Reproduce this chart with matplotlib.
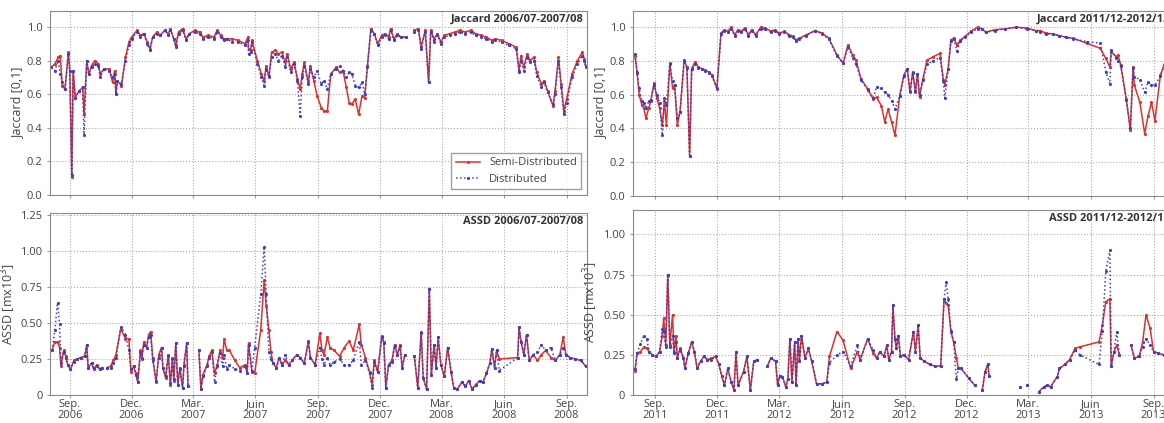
import numpy as np
import pandas as pd
import matplotlib
matplotlib.use("Agg")
import matplotlib.pyplot as plt
import matplotlib.dates as mdates

plt.rcParams['font.family'] = ['Open Sans', 'DejaVu Sans']

nan = np.nan

# ---- 2006/07-2007/08, days since 2006-08-01 ----
jac06_days = [4, 9, 14, 17, 20, 24, 29, 31, 34, 36,
              39, 45, 50, 52, 56, 59, 63, 68, 73, 76,
              81, 89, 94, 97, 99, 101, 107, 113, 118, 122,
              130, 135, 140, 145, 149, 153, 159, 164, 171, 176,
              179, 184, 187, 191, 197, 202, 207, 215, 222, 227,
              235, 243, 248, 253, 258, 263, 269, 279, 289, 293,
              294, 297, 299, 307, 313, 317, 320, 324, 328, 333,
              338, 343, 348, 351, 356, 361, 366, 370, 373, 376,
              382, 385, 390, 395, 401, 405, 410, 415, 423, 428,
              433, 438, 442, 446, 451, 456, 461, 465, 469, 474,
              479, 484, 490, 495, 500, 503, 508, 513, 518, 526,
              532, 538, 544, 548, 554, 559, 562, 567, 572, 577,
              582, 590, 598, 605, 613, 621, 628, 636, 644, 652,
              657, 667, 677, 688, 692, 695, 699, 704, 708, 714,
              718, 725, 729, 734, 742, 745, 750, 754, 758, 762,
              770, 778, 785, 788, 790]
jac06_semi = [0.76, 0.78, 0.82, 0.83, 0.65, 0.63, 0.85, 0.74, 0.11, 0.74,
              0.58, 0.62, 0.64, 0.48, 0.80, 0.72, 0.77, 0.80, 0.78, 0.72,
              0.75, 0.75, 0.67, 0.74, 0.60, 0.68, 0.65, 0.82, 0.91, 0.94,
              0.98, 0.95, 0.96, 0.91, 0.87, 0.94, 0.97, 0.95, 0.98, 0.96,
              0.99, 0.93, 0.89, 0.97, 0.99, 0.93, 0.96, 0.98, 0.97, 0.94,
              0.95, 0.94, 0.98, 0.95, 0.93, 0.93, 0.93, 0.92, 0.90, 0.94,
              0.87, 0.86, 0.92, 0.80, 0.72, 0.68, 0.77, 0.70, 0.85, 0.86,
              0.84, 0.85, 0.79, 0.84, 0.75, 0.79, 0.69, 0.63, 0.72, 0.79,
              0.67, 0.77, 0.68, 0.59, 0.52, 0.50, 0.50, 0.72, 0.76, 0.73,
              0.74, 0.64, 0.55, 0.54, 0.57, 0.48, 0.59, 0.58, 0.77, 0.99,
              0.96, 0.90, 0.95, 0.96, 0.94, 0.99, 0.93, 0.96, 0.94, 0.94,
              nan, 0.98, 0.99, 0.88, 0.98, 0.67, 0.98, 0.93, 0.96, 0.91,
              0.95, 0.96, 0.97, 0.98, 0.97, 0.98, 0.96, 0.95, 0.94, 0.92,
              0.93, 0.92, 0.90, 0.88, 0.74, 0.83, 0.76, 0.84, 0.80, 0.82,
              0.73, 0.66, 0.68, 0.62, 0.53, 0.62, 0.82, 0.66, 0.50, 0.57,
              0.72, 0.80, 0.85, 0.81, 0.77]
jac06_dist = [0.76, 0.74, 0.80, 0.72, 0.67, 0.63, 0.84, 0.74, 0.12, 0.74,
              0.58, 0.62, 0.64, 0.36, 0.80, 0.72, 0.76, 0.78, 0.77, 0.70,
              0.75, 0.74, 0.70, 0.72, 0.60, 0.68, 0.66, 0.80, 0.89, 0.93,
              0.97, 0.94, 0.96, 0.90, 0.86, 0.94, 0.96, 0.95, 0.98, 0.95,
              0.98, 0.93, 0.88, 0.96, 0.98, 0.92, 0.96, 0.97, 0.96, 0.93,
              0.94, 0.93, 0.97, 0.94, 0.92, 0.93, 0.91, 0.91, 0.89, 0.92,
              0.84, 0.85, 0.91, 0.78, 0.70, 0.65, 0.75, 0.71, 0.82, 0.84,
              0.80, 0.83, 0.76, 0.82, 0.73, 0.78, 0.68, 0.47, 0.70, 0.77,
              0.66, 0.75, 0.70, 0.74, 0.66, 0.68, 0.63, 0.72, 0.75, 0.77,
              0.74, 0.70, 0.73, 0.72, 0.65, 0.64, 0.67, 0.60, 0.76, 0.98,
              0.96, 0.89, 0.94, 0.95, 0.93, 0.98, 0.92, 0.95, 0.94, 0.94,
              nan, 0.97, 0.98, 0.87, 0.97, 0.67, 0.97, 0.91, 0.95, 0.90,
              0.94, 0.95, 0.96, 0.97, 0.96, 0.97, 0.95, 0.94, 0.93, 0.91,
              0.92, 0.91, 0.89, 0.87, 0.73, 0.80, 0.74, 0.82, 0.79, 0.80,
              0.71, 0.64, 0.67, 0.61, 0.54, 0.60, 0.80, 0.64, 0.48, 0.55,
              0.70, 0.78, 0.83, 0.80, 0.76]

assd06_days = [5, 9, 13, 16, 18, 22, 25, 28, 32, 37,
               42, 47, 53, 56, 58, 63, 66, 71, 75, 78,
               82, 86, 91, 95, 99, 106, 113, 118, 121, 125,
               128, 131, 135, 137, 140, 144, 147, 150, 153, 158,
               162, 166, 168, 172, 176, 179, 182, 184, 187, 190,
               193, 197, 199, 203, 205, 213, 221, 224, 227, 233,
               236, 240, 244, 248, 252, 256, 258, 262, 266, 274,
               281, 289, 292, 294, 299, 303, 312, 317, 320, 324,
               327, 330, 335, 339, 343, 348, 353, 358, 365, 370,
               376, 382, 385, 392, 399, 402, 405, 410, 414, 420,
               428, 435, 442, 448, 457, 460, 466, 472, 476, 479,
               484, 490, 493, 496, 500, 505, 509, 513, 517, 520,
               524, 531, 538, 543, 548, 551, 556, 560, 563, 567,
               570, 573, 577, 582, 587, 592, 596, 601, 608, 613,
               618, 623, 628, 634, 639, 644, 649, 652, 656, 659,
               663, 690, 692, 695, 699, 703, 707, 713, 719, 725,
               731, 739, 745, 752, 757, 761, 767, 775, 783, 790]
assd06_semi = [0.31, 0.37, 0.37, 0.33, 0.20, 0.31, 0.27, 0.21, 0.18, 0.24,
               0.25, 0.26, 0.27, 0.35, 0.19, 0.22, 0.18, 0.21, 0.18, 0.19,
               nan, 0.19, 0.20, 0.24, 0.28, 0.46, 0.39, 0.39, 0.16, 0.20,
               0.15, 0.09, 0.31, 0.26, 0.37, 0.33, 0.42, 0.44, 0.26, 0.09,
               0.28, 0.33, 0.19, 0.12, 0.28, 0.07, 0.26, 0.10, 0.36, 0.07,
               0.19, 0.05, 0.21, 0.36, 0.06, nan, 0.31, 0.04, 0.14, 0.21,
               0.27, 0.31, 0.15, 0.21, 0.31, 0.26, 0.39, 0.31, 0.31, 0.24,
               0.19, 0.21, 0.15, 0.36, 0.16, 0.15, 0.45, 0.80, 0.62, 0.45,
               0.30, 0.22, 0.19, 0.26, 0.21, 0.24, 0.21, 0.24, 0.28, 0.26,
               0.22, 0.37, 0.26, 0.21, 0.43, 0.31, 0.28, 0.40, 0.33, 0.31,
               0.27, 0.33, 0.375, 0.31, 0.49, 0.35, 0.26, 0.16, 0.07, 0.24,
               0.16, 0.41, 0.37, 0.05, 0.21, 0.24, 0.35, 0.28, 0.35, 0.19,
               0.28, nan, 0.27, 0.05, 0.44, 0.12, 0.04, 0.74, 0.14, 0.35,
               0.19, 0.40, 0.21, 0.13, 0.33, 0.16, 0.05, 0.04, 0.09, 0.06,
               0.10, 0.04, 0.07, 0.10, 0.09, 0.15, 0.22, 0.32, 0.19, 0.31,
               0.25, 0.26, 0.47, 0.37, 0.28, 0.42, 0.24, 0.28, 0.24, 0.28,
               0.31, 0.26, 0.24, 0.28, 0.40, 0.28, 0.26, 0.25, 0.24, 0.20]
assd06_dist = [0.31, 0.45, 0.64, 0.49, 0.22, 0.30, 0.26, 0.21, 0.18, 0.23,
               0.25, 0.26, 0.27, 0.35, 0.19, 0.22, 0.19, 0.20, 0.18, 0.19,
               nan, 0.19, 0.19, 0.22, 0.26, 0.47, 0.42, 0.31, 0.18, 0.20,
               0.14, 0.09, 0.30, 0.25, 0.35, 0.33, 0.40, 0.42, 0.24, 0.10,
               0.26, 0.33, 0.19, 0.13, 0.27, 0.08, 0.25, 0.11, 0.36, 0.07,
               0.18, 0.05, 0.20, 0.36, 0.06, nan, 0.31, 0.04, 0.13, 0.20,
               0.26, 0.30, 0.09, 0.20, 0.29, 0.20, 0.28, 0.18, 0.21, 0.18,
               0.17, 0.20, 0.15, 0.35, 0.17, 0.33, 0.70, 1.03, 0.70, 0.30,
               0.25, 0.22, 0.19, 0.26, 0.21, 0.28, 0.21, 0.24, 0.28, 0.26,
               0.22, 0.375, 0.26, 0.21, 0.33, 0.25, 0.21, 0.26, 0.21, 0.23,
               0.25, 0.21, 0.21, 0.24, 0.37, 0.21, 0.24, 0.15, 0.05, 0.23,
               0.16, 0.40, 0.36, 0.05, 0.21, 0.23, 0.34, 0.28, 0.34, 0.19,
               0.28, nan, 0.27, 0.05, 0.43, 0.12, 0.04, 0.74, 0.14, 0.35,
               0.19, 0.40, 0.21, 0.13, 0.33, 0.16, 0.05, 0.04, 0.09, 0.06,
               0.10, 0.04, 0.07, 0.10, 0.09, 0.15, 0.22, 0.32, 0.19, 0.31,
               0.17, 0.26, 0.47, 0.37, 0.28, 0.42, 0.24, 0.28, 0.30, 0.35,
               0.31, 0.33, 0.24, 0.28, 0.33, 0.28, 0.26, 0.25, 0.24, 0.20]

# ---- 2011/12-2012/13, days since 2011-08-01 ----
jac11_days = [2, 5, 8, 12, 15, 18, 22, 25, 30, 34,
              38, 42, 45, 48, 53, 57, 60, 64, 68, 74,
              78, 82, 85, 90, 95, 100, 105, 110, 115, 122,
              128, 133, 138, 143, 148, 153, 158, 163, 168, 173,
              179, 186, 193, 201, 207, 213, 221, 228, 233, 238,
              243, 253, 266, 276, 286, 298, 307, 314, 321, 326,
              333, 343, 351, 356, 363, 368, 373, 378, 383, 390,
              396, 401, 405, 409, 413, 416, 419, 424, 430, 439,
              449, 454, 456, 461, 465, 469, 474, 479, 486, 494,
              504, 511, 516, 529, 544, 561, 576, 589, 596, 604,
              614, 624, 634, 644, 664, 684, 692, 698, 700, 707,
              710, 714, 722, 728, 732, 734, 742, 749, 754, 759,
              764, 772, 779]
jac11_semi = [0.83, 0.735, 0.60, 0.54, 0.52, 0.46, 0.52, 0.56, 0.67, 0.58,
              0.52, 0.42, 0.56, 0.42, 0.785, 0.64, 0.66, 0.42, 0.50, 0.805,
              0.765, 0.24, 0.755, 0.795, 0.765, 0.755, 0.745, 0.735, 0.715, 0.635,
              0.965, 0.985, 0.975, 1.0, 0.955, 0.985, 0.975, 0.995, 0.955, 0.985,
              0.955, 1.0, 0.995, 0.975, 0.985, 0.965, 0.975, 0.955, 0.945, 0.925,
              0.935, 0.955, 0.98, 0.965, 0.935, 0.835, 0.785, 0.895, 0.835, 0.805,
              0.695, 0.635, 0.575, 0.585, 0.535, 0.44, 0.515, 0.44, 0.36, 0.595,
              0.715, 0.755, 0.615, 0.735, 0.615, 0.725, 0.585, 0.695, 0.805, 0.825,
              0.845, 0.685, 0.66, 0.755, 0.925, 0.935, 0.895, 0.925, 0.945, 0.975,
              1.0, 0.99, 0.97, 0.985, 0.99, 1.0, 0.995, 0.98, 0.98, 0.965,
              0.96, 0.95, 0.94, 0.935, 0.905, 0.875, 0.815, 0.765, 0.855, 0.825,
              0.835, 0.775, 0.575, 0.39, 0.765, 0.655, 0.555, 0.37, 0.475, 0.555,
              0.445, 0.715, 0.795]
jac11_dist = [0.84, 0.73, 0.64, 0.56, 0.55, 0.52, 0.56, 0.57, 0.66, 0.60,
              0.55, 0.36, 0.58, 0.54, 0.78, 0.68, 0.66, 0.46, 0.50, 0.80,
              0.76, 0.24, 0.75, 0.78, 0.76, 0.75, 0.74, 0.73, 0.71, 0.64,
              0.96, 0.98, 0.97, 0.99, 0.95, 0.98, 0.97, 0.99, 0.95, 0.98,
              0.95, 0.99, 0.99, 0.97, 0.98, 0.96, 0.97, 0.95, 0.94, 0.92,
              0.93, 0.95, 0.98, 0.96, 0.93, 0.83, 0.79, 0.88, 0.82, 0.78,
              0.69, 0.63, 0.58, 0.645, 0.64, 0.615, 0.60, 0.565, 0.515, 0.59,
              0.71, 0.75, 0.62, 0.73, 0.62, 0.72, 0.60, 0.69, 0.78, 0.80,
              0.82, 0.68, 0.58, 0.75, 0.92, 0.93, 0.86, 0.92, 0.94, 0.97,
              0.99, 0.99, 0.97, 0.98, 0.99, 1.0, 0.99, 0.98, 0.97, 0.96,
              0.96, 0.95, 0.94, 0.93, 0.915, 0.905, 0.735, 0.665, 0.865, 0.82,
              0.80, 0.77, 0.57, 0.40, 0.76, 0.705, 0.69, 0.615, 0.675, 0.66,
              0.655, 0.71, 0.79]

assd11_days = [2, 5, 10, 15, 19, 23, 27, 33, 38, 42,
               44, 47, 50, 53, 57, 59, 62, 64, 68, 73,
               75, 80, 85, 89, 93, 98, 103, 108, 114, 120,
               125, 129, 133, 138, 143, 147, 150, 153, 161, 166,
               171, 176, 181, 188, 196, 201, 208, 211, 214, 218,
               223, 226, 229, 232, 236, 238, 241, 243, 246, 251,
               256, 261, 268, 276, 283, 287, 298, 307, 318, 328,
               332, 343, 351, 356, 361, 367, 371, 374, 378, 380,
               383, 385, 388, 391, 396, 403, 410, 413, 417, 420,
               426, 434, 441, 450, 455, 458, 461, 465, 469, 473,
               476, 480, 491, 500, 505, 511, 515, 519, 521, 540,
               566, 571, 576, 585, 594, 601, 606, 611, 621, 624,
               632, 639, 647, 654, 682, 687, 692, 698, 700, 704,
               708, 712, 720, 729, 734, 741, 746, 751, 757, 762,
               769, 777, 782]
assd11_semi = [0.15, 0.26, 0.27, 0.30, 0.29, 0.27, 0.25, 0.24, 0.27, 0.37,
               0.48, 0.31, 0.75, 0.31, 0.50, 0.27, 0.37, 0.23, 0.29, 0.23,
               0.165, 0.26, 0.33, 0.27, 0.165, 0.21, 0.24, 0.22, 0.23, 0.24,
               0.19, 0.12, 0.06, 0.165, 0.08, 0.03, 0.27, 0.06, 0.145, 0.24,
               0.03, 0.21, 0.22, nan, 0.18, 0.23, 0.21, 0.06, 0.12, 0.115,
               0.05, 0.10, 0.35, 0.08, 0.33, 0.06, 0.35, 0.21, 0.37, 0.23,
               0.29, 0.21, 0.07, 0.07, 0.08, 0.24, 0.395, 0.34, 0.165, 0.27,
               0.22, 0.35, 0.26, 0.23, 0.27, 0.24, 0.31, 0.22, 0.27, 0.56,
               0.35, 0.29, 0.37, 0.24, 0.25, 0.22, 0.395, 0.27, 0.435, 0.23,
               0.21, 0.19, 0.18, 0.18, 0.60, 0.57, 0.56, 0.395, 0.33, 0.23,
               0.165, 0.165, 0.105, 0.06, nan, 0.03, 0.145, 0.19, 0.12, nan,
               0.05, nan, 0.06, nan, 0.02, 0.05, 0.06, 0.05, 0.115, 0.165,
               0.19, 0.22, 0.29, 0.30, 0.33, 0.435, 0.58, 0.60, 0.18, 0.27,
               0.31, 0.25, nan, 0.31, 0.23, 0.24, 0.33, 0.50, 0.415, 0.27,
               0.26, 0.25, 0.23]
assd11_dist = [0.16, 0.26, 0.32, 0.37, 0.35, 0.27, 0.25, 0.24, 0.27, 0.41,
               0.40, 0.30, 0.75, 0.30, 0.37, 0.26, 0.33, 0.23, 0.28, 0.23,
               0.17, 0.26, 0.33, 0.27, 0.17, 0.21, 0.24, 0.22, 0.22, 0.24,
               0.19, 0.12, 0.06, 0.165, 0.08, 0.03, 0.27, 0.06, 0.145, 0.24,
               0.03, 0.21, 0.22, nan, 0.18, 0.23, 0.21, 0.06, 0.12, 0.115,
               0.05, 0.10, 0.35, 0.08, 0.33, 0.06, 0.35, 0.21, 0.37, 0.23,
               0.29, 0.21, 0.07, 0.07, 0.08, 0.20, 0.25, 0.27, 0.18, 0.31,
               0.22, 0.35, 0.28, 0.23, 0.27, 0.24, 0.31, 0.22, 0.27, 0.56,
               0.35, 0.29, 0.37, 0.24, 0.25, 0.22, 0.395, 0.27, 0.435, 0.23,
               0.21, 0.19, 0.18, 0.18, 0.60, 0.705, 0.60, 0.40, 0.33, 0.10,
               0.165, 0.165, 0.105, 0.06, nan, 0.03, 0.145, 0.19, 0.12, nan,
               0.05, nan, 0.06, nan, 0.02, 0.05, 0.06, 0.05, 0.115, 0.165,
               0.19, 0.22, 0.28, 0.25, 0.19, 0.40, 0.77, 0.90, 0.18, 0.27,
               0.39, 0.25, nan, 0.31, 0.23, 0.24, 0.30, 0.35, 0.31, 0.27,
               0.26, 0.25, 0.23]

MONTHS = {3: "Mar.", 6: "Juin", 9: "Sep.", 12: "Dec."}
RED = "#e0302c"
BLUE = "#3a3fc4"
TXT = "#444444"


def to_dates(start, days):
    return pd.Timestamp(start) + pd.to_timedelta(days, unit="D")


def month_fmt(x, pos=None):
    d = mdates.num2date(x)
    return "%s\n%d" % (MONTHS.get(d.month, ""), d.year)


def style(ax, xlim, ylim, yticks, ylabels, ylabel, tag, xlab):
    ax.set_xlim(pd.Timestamp(xlim[0]), pd.Timestamp(xlim[1]))
    ax.set_ylim(*ylim)
    ax.set_yticks(yticks)
    ax.set_yticklabels(ylabels)
    ax.xaxis.set_major_locator(mdates.MonthLocator(bymonth=[3, 6, 9, 12]))
    ax.xaxis.set_major_formatter(plt.FuncFormatter(month_fmt))
    ax.grid(True, linestyle=":", color="#aaaaaa", linewidth=0.8)
    ax.tick_params(labelsize=8, colors=TXT, length=2, color="#999999")
    ax.tick_params(axis="x", pad=1)
    if xlab:
        for t in ax.get_xticklabels():
            t.set_linespacing(0.95)
    else:
        ax.set_xticklabels([])
    for s in ax.spines.values():
        s.set_color("#8a8a8a")
    ax.set_ylabel(ylabel, fontsize=9, color=TXT, labelpad=2)
    ax.text(0.993, 0.985, tag, transform=ax.transAxes, ha="right", va="top",
            fontsize=8, fontweight="bold", color="#333333")


def draw(ax, dates, semi, dist):
    ax.plot(dates, semi, "-", color=RED, lw=1.1, marker=".", ms=2.5,
            label="Semi-Distributed")
    ax.plot(dates, dist, ":", color=BLUE, lw=1.1, marker=".", ms=2.5,
            label="Distributed")


fig = plt.figure(figsize=(11.64, 4.23), dpi=100)

jac_ticks = [0.0, 0.2, 0.4, 0.6, 0.8, 1.0]
jac_labels = ["0.0", "0.2", "0.4", "0.6", "0.8", "1.0"]

ax1 = fig.add_axes([0.043, 0.539, 0.4613, 0.435])
draw(ax1, to_dates("2006-08-01", jac06_days), jac06_semi, jac06_dist)
style(ax1, ("2006-08-03", "2008-10-01"), (0, 1.095), jac_ticks, jac_labels,
      "Jaccard [0,1]", "Jaccard 2006/07-2007/08", False)
leg = ax1.legend(loc="lower right", fontsize=8, frameon=True, fancybox=False,
                 borderaxespad=0.5, handlelength=2.2)
leg.get_frame().set_edgecolor("#888888")
for t in leg.get_texts():
    t.set_color(TXT)

ax2 = fig.add_axes([0.043, 0.0662, 0.4613, 0.430])
draw(ax2, to_dates("2006-08-01", assd06_days), assd06_semi, assd06_dist)
style(ax2, ("2006-08-03", "2008-10-01"), (0, 1.264),
      [0, 0.25, 0.5, 0.75, 1.0, 1.25],
      ["0", "0.25", "0.50", "0.75", "1.00", "1.25"],
      r"ASSD [mx10$^3$]", "ASSD 2006/07-2007/08", True)

ax3 = fig.add_axes([0.5438, 0.5366, 0.4648, 0.437])
draw(ax3, to_dates("2011-08-01", jac11_days), jac11_semi, jac11_dist)
style(ax3, ("2011-07-31", "2013-10-01"), (0, 1.095), jac_ticks, jac_labels,
      "Jaccard [0,1]", "Jaccard 2011/12-2012/13", False)

ax4 = fig.add_axes([0.5438, 0.0662, 0.4648, 0.437])
draw(ax4, to_dates("2011-08-01", assd11_days), assd11_semi, assd11_dist)
style(ax4, ("2011-07-31", "2013-10-01"), (0, 1.151),
      [0, 0.25, 0.5, 0.75, 1.0],
      ["0", "0.25", "0.50", "0.75", "1.00"],
      r"ASSD [mx10$^3$]", "ASSD 2011/12-2012/13", True)

fig.savefig("out.png", dpi=100)
